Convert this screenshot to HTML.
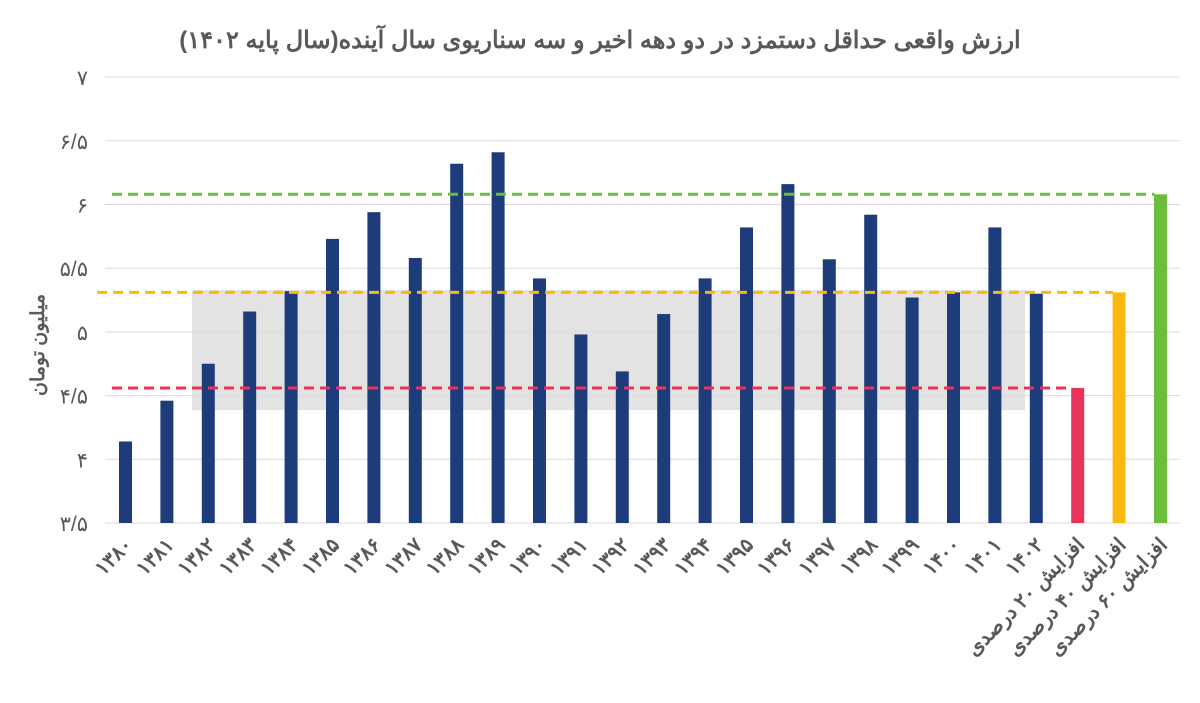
<!DOCTYPE html>
<html><head><meta charset="utf-8"><style>
body{margin:0;background:#fff;}
svg{display:block;font-family:"Liberation Sans","Noto Sans CJK SC",sans-serif;}
</style></head><body>
<svg id="chart" width="1200" height="703">
<text x="600" y="48" text-anchor="middle" font-size="24" font-weight="bold" fill="#595959">ارزش واقعی حداقل دستمزد در دو دهه اخیر و سه سناریوی سال آینده(سال پایه ۱۴۰۲)</text>
<text transform="translate(44,345) rotate(-90)" text-anchor="middle" font-size="19" font-weight="bold" fill="#595959">میلیون تومان</text>
<g id="grid"></g>
<rect x="192" y="290" width="833" height="120" fill="#dcdcdc" opacity="0.8"/>
<g id="bars"></g>
<g id="lines"></g>
<g id="labels"></g>
</svg>
<script>
const categories=["۱۳۸۰","۱۳۸۱","۱۳۸۲","۱۳۸۳","۱۳۸۴","۱۳۸۵","۱۳۸۶","۱۳۸۷","۱۳۸۸","۱۳۸۹","۱۳۹۰","۱۳۹۱","۱۳۹۲","۱۳۹۳","۱۳۹۴","۱۳۹۵","۱۳۹۶","۱۳۹۷","۱۳۹۸","۱۳۹۹","۱۴۰۰","۱۴۰۱","۱۴۰۲","افزایش ۲۰ درصدی","افزایش ۴۰ درصدی","افزایش ۶۰ درصدی"];
const values=[4.14,4.46,4.75,5.16,5.32,5.73,5.94,5.58,6.32,6.41,5.42,4.98,4.69,5.14,5.42,5.82,6.16,5.57,5.92,5.27,5.31,5.82,5.30,4.56,5.31,6.08];
const colors=["#1f3c7a","#1f3c7a","#1f3c7a","#1f3c7a","#1f3c7a","#1f3c7a","#1f3c7a","#1f3c7a","#1f3c7a","#1f3c7a","#1f3c7a","#1f3c7a","#1f3c7a","#1f3c7a","#1f3c7a","#1f3c7a","#1f3c7a","#1f3c7a","#1f3c7a","#1f3c7a","#1f3c7a","#1f3c7a","#1f3c7a","#e8345a","#fbb90f","#6bbd3c"];
const yTicks=[3.5,4,4.5,5,5.5,6,6.5,7];
const yTickLabels=["۳/۵","۴","۴/۵","۵","۵/۵","۶","۶/۵","۷"];
const NS="http://www.w3.org/2000/svg";
function y(v){return 523-(v-3.5)*127.4;}
function x(i){return 125.5+i*41.4;}
function mk(tag,attrs,parent){const e=document.createElementNS(NS,tag);for(const k in attrs)e.setAttribute(k,attrs[k]);document.getElementById(parent).appendChild(e);return e;}
yTicks.forEach((t,i)=>{
  const l=mk("line",{x1:105,x2:1180,y1:y(t),y2:y(t),stroke:"#d9d9d9","stroke-width":1},"grid");
  
  
  const tx=mk("text",{x:88,y:y(t)+8,"text-anchor":"end","font-size":21,fill:"#595959"},"grid");
  tx.textContent=yTickLabels[i];
  
  
});
values.forEach((v,i)=>{
  const r=mk("rect",{x:x(i)-6.5,y:y(v),width:13,height:y(3.5)-y(v),fill:colors[i]},"bars");
  
  
  const t=mk("text",{transform:"translate("+(x(i)+8)+",546) rotate(-45)","text-anchor":"end","font-size":20,"font-weight":"bold",fill:"#595959"},"labels");
  t.textContent=categories[i];
  
  
});
const n=values.length;
const refLines=[[n-1,112,"#6bbd3c"],[n-2,97,"#fbb90f"],[n-3,112,"#e8345a"]];
refLines.forEach(r=>{
  const l=mk("line",{x1:r[1],x2:x(r[0])-6,y1:y(values[r[0]]),y2:y(values[r[0]]),stroke:r[2],"stroke-width":3,"stroke-dasharray":"10,6"},"lines");
  
  
});
</script>
</body></html>
